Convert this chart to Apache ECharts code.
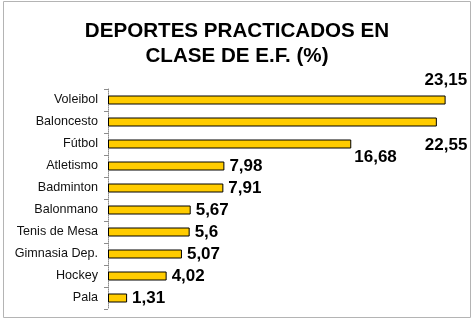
<!DOCTYPE html>
<html>
<head>
<meta charset="utf-8">
<script src="https://cdn.jsdelivr.net/npm/echarts@6/dist/echarts.min.js"></script>
<style>
  html, body { margin: 0; padding: 0; background: #fff; }
  #chart { width: 474px; height: 323px; }
</style>
</head>
<body>
<div id="chart"></div>
<script>
// Sports practised in PE class, share of students (%)
const categories = ['Voleibol', 'Baloncesto', 'Fútbol', 'Atletismo', 'Badminton',
                    'Balonmano', 'Tenis de Mesa', 'Gimnasia Dep.', 'Hockey', 'Pala'];
const values = [23.15, 22.55, 16.68, 7.98, 7.91, 5.67, 5.6, 5.07, 4.02, 1.31];

// Hand-placed labels for the three longest bars (index -> pixel offset)
const labelOffsets = { 0: [-26, -20], 1: [-17, 23], 2: [-2, 13] };

const chart = echarts.init(document.getElementById('chart'), null, { renderer: 'canvas' });

const seriesData = values.map((v, i) => {
  const item = { value: v };
  if (labelOffsets[i]) item.label = { offset: labelOffsets[i] };
  return item;
});

chart.setOption({
  animation: false,
  backgroundColor: '#ffffff',
  title: {
    text: 'DEPORTES PRACTICADOS EN\nCLASE DE E.F. (%)',
    left: 'center',
    top: 14,
    textStyle: {
      fontFamily: 'Liberation Sans, Arial, sans-serif',
      fontSize: 20.6,
      fontWeight: 'bold',
      color: '#000',
      lineHeight: 25
    }
  },
  graphic: [{
    type: 'rect',
    shape: { x: 3.5, y: 1.5, width: 467, height: 316 },
    style: { fill: 'none', stroke: '#b4b4b4', lineWidth: 1 },
    silent: true,
    z: -1
  }],
  grid: { left: 108, top: 89, height: 220, right: 16, containLabel: false },
  xAxis: {
    type: 'value',
    min: 0,
    max: 24,
    show: false
  },
  yAxis: {
    type: 'category',
    data: categories,
    inverse: true,
    axisLine: { show: true, lineStyle: { color: '#8c8c8c', type: 'dotted', width: 1 } },
    axisTick: { show: true, length: 4, lineStyle: { color: '#8c8c8c' } },
    axisLabel: {
      margin: 10,
      fontFamily: 'Liberation Sans, Arial, sans-serif',
      fontSize: 12.6,
      color: '#111'
    },
    splitLine: { show: false }
  },
  series: [{
    type: 'bar',
    data: seriesData,
    barWidth: 9,
    itemStyle: {
      color: '#FFCC00',
      borderColor: '#000',
      borderWidth: 1
    },
    label: {
      show: true,
      position: 'right',
      distance: 5,
      fontFamily: 'Liberation Sans, Arial, sans-serif',
      fontSize: 17,
      fontWeight: 'bold',
      color: '#000',
      formatter: p => String(p.value).replace('.', ',')
    }
  }]
});
</script>
</body>
</html>
